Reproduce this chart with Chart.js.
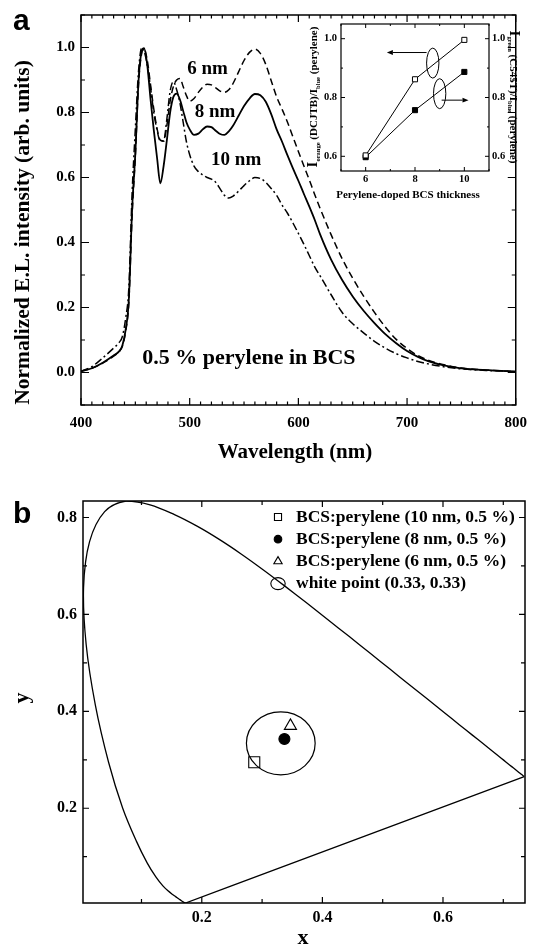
<!DOCTYPE html>
<html>
<head>
<meta charset="utf-8">
<script src="https://cdn.jsdelivr.net/npm/chart.js@4.4.1/dist/chart.umd.min.js"></script>
<style>
  html, body { margin: 0; padding: 0; background: #fff; }
  #page { position: relative; width: 536px; height: 946px; overflow: hidden; }
  canvas { position: absolute; }
</style>
</head>
<body>
<div id="page">
  <canvas id="spectra" width="536" height="470" style="left:0;top:0"></canvas>
  <canvas id="inset" width="240" height="210" style="left:290px;top:10px"></canvas>
  <canvas id="cie" width="536" height="476" style="left:0;top:470px"></canvas>
</div>
<script>
// ---- panel a: EL spectra ----
const wavelength = [400, 410, 420, 430, 435, 438, 441, 444, 447, 450, 453, 456, 458, 461, 464, 467, 470,
  473, 476, 479, 482, 485, 488, 491, 494, 497, 500, 504, 508, 512, 516, 520, 524, 528, 532, 536, 540,
  545, 550, 555, 560, 565, 570, 575, 580, 585, 590, 595, 600, 605, 610, 615, 620,
  630, 640, 650, 660, 670, 680, 690, 700, 710, 720, 735, 750, 775, 800];
const el6nm = [0.004, 0.013, 0.029, 0.05, 0.064, 0.08, 0.125, 0.215, 0.48, 0.665, 0.89, 0.985, 0.997, 0.96, 0.885, 0.81, 0.75,
  0.715, 0.712, 0.76, 0.835, 0.88, 0.9, 0.905, 0.88, 0.852, 0.835, 0.843, 0.862, 0.878, 0.887, 0.885, 0.876, 0.866, 0.862, 0.87, 0.89,
  0.925, 0.96, 0.985, 0.995, 0.982, 0.948, 0.898, 0.848, 0.81, 0.77, 0.725, 0.68, 0.636, 0.593, 0.548, 0.505,
  0.425, 0.352, 0.29, 0.235, 0.185, 0.14, 0.102, 0.074, 0.052, 0.037, 0.023, 0.014, 0.007, 0.003];
const el8nm = [0.004, 0.013, 0.03, 0.052, 0.065, 0.082, 0.13, 0.224, 0.5, 0.675, 0.9, 0.99, 0.998, 0.945, 0.84, 0.745, 0.66,
  0.582, 0.635, 0.715, 0.8, 0.848, 0.858, 0.84, 0.805, 0.77, 0.748, 0.731, 0.735, 0.748, 0.757, 0.755, 0.744, 0.734, 0.731, 0.742, 0.76,
  0.79, 0.82, 0.843, 0.857, 0.853, 0.833, 0.795, 0.748, 0.71, 0.668, 0.628, 0.59, 0.55, 0.511, 0.47, 0.425,
  0.348, 0.286, 0.234, 0.19, 0.152, 0.118, 0.09, 0.066, 0.048, 0.034, 0.021, 0.013, 0.007, 0.003];
const el10nm = [0.004, 0.018, 0.045, 0.075, 0.092, 0.11, 0.165, 0.26, 0.55, 0.75, 0.93, 1.0, 0.99, 0.945, 0.875, 0.8, 0.745,
  0.712, 0.712, 0.78, 0.865, 0.895, 0.87, 0.83, 0.77, 0.71, 0.67, 0.635, 0.618, 0.608, 0.6, 0.595, 0.585, 0.565, 0.545, 0.537, 0.543,
  0.558, 0.575, 0.59, 0.6, 0.597, 0.585, 0.566, 0.545, 0.515, 0.49, 0.46, 0.428, 0.395, 0.36, 0.325, 0.297,
  0.24, 0.186, 0.15, 0.122, 0.096, 0.075, 0.058, 0.045, 0.034, 0.026, 0.017, 0.011, 0.006, 0.003];
const tickWavelength = [400, 500, 600, 700, 800];
const tickIntensity = [0, 0.2, 0.4, 0.6, 0.8, 1.0];

// ---- inset: intensity ratios vs. doped-layer thickness ----
const thickness = [6, 8, 10];
const orangeRatio = [0.603, 0.862, 0.996];   // open squares, left axis
const greenRatio = [0.597, 0.757, 0.887];    // filled squares, right axis
const tickThickness = [6, 8, 10];
const tickRatio = [0.6, 0.8, 1.0];
const insetEllipses = [[8.72, 0.917], [9.0, 0.813]];
const insetArrows = [[[8.47, 0.953], [6.86, 0.953]], [[9.08, 0.791], [10.17, 0.791]]];

// ---- panel b: CIE 1931 spectral locus 380-700 nm, 5 nm steps ----
const locusX = [0.1741, 0.1740, 0.1738, 0.1736, 0.1733, 0.1730, 0.1726, 0.1721, 0.1714, 0.1703, 0.1689, 0.1669,
  0.1644, 0.1611, 0.1566, 0.1510, 0.1440, 0.1355, 0.1241, 0.1096, 0.0913, 0.0687, 0.0454, 0.0235, 0.0082,
  0.0039, 0.0139, 0.0389, 0.0743, 0.1142, 0.1547, 0.1929, 0.2296, 0.2658, 0.3016, 0.3373, 0.3731, 0.4087,
  0.4441, 0.4788, 0.5125, 0.5448, 0.5752, 0.6029, 0.6270, 0.6482, 0.6658, 0.6801, 0.6915, 0.7006, 0.7079,
  0.7140, 0.7190, 0.7230, 0.7260, 0.7283, 0.7300, 0.7311, 0.7320, 0.7327, 0.7334, 0.7340, 0.7344, 0.7346, 0.7347];
const locusY = [0.0050, 0.0050, 0.0049, 0.0049, 0.0048, 0.0048, 0.0048, 0.0048, 0.0051, 0.0058, 0.0069, 0.0086,
  0.0109, 0.0138, 0.0177, 0.0227, 0.0297, 0.0399, 0.0578, 0.0868, 0.1327, 0.2007, 0.2950, 0.4127, 0.5384,
  0.6548, 0.7502, 0.8120, 0.8338, 0.8262, 0.8059, 0.7816, 0.7543, 0.7243, 0.6923, 0.6589, 0.6245, 0.5896,
  0.5547, 0.5202, 0.4866, 0.4544, 0.4242, 0.3965, 0.3725, 0.3514, 0.3340, 0.3197, 0.3083, 0.2993, 0.2920,
  0.2859, 0.2809, 0.2770, 0.2740, 0.2717, 0.2700, 0.2689, 0.2680, 0.2673, 0.2666, 0.2660, 0.2656, 0.2654, 0.2653];
const sampleLabels = ['BCS:perylene (10 nm, 0.5 %)', 'BCS:perylene (8 nm, 0.5 %)', 'BCS:perylene (6 nm, 0.5 %)'];
const sampleX = [0.287, 0.337, 0.347];
const sampleY = [0.295, 0.343, 0.37];
const whitePoint = [0.331, 0.334];
const whiteRegion = [0.057, 0.065];   // half-axes of the drawn region
const tickCieX = [0.2, 0.4, 0.6];
const tickCieY = [0.2, 0.4, 0.6, 0.8];

const SERIF = '"Liberation Serif", "Times New Roman", serif';
const SANS = '"Liberation Sans", Arial, sans-serif';
Chart.defaults.font.family = SERIF;
Chart.defaults.font.weight = 'bold';
Chart.defaults.color = '#000';

const toXY = (xs, ys) => xs.map((x, i) => ({x, y: ys[i]}));
const fixedTicks = values => scale => { scale.ticks = values.map(value => ({value})); };

function drawRich(ctx, parts, x, y, rotation, align, family) {
  ctx.save();
  ctx.translate(x, y);
  ctx.rotate((rotation || 0) * Math.PI / 180);
  ctx.textBaseline = 'alphabetic';
  ctx.textAlign = 'left';
  let total = 0;
  parts.forEach(p => {
    ctx.font = `bold ${p.size}px ${family || SERIF}`;
    p.w = ctx.measureText(p.text).width;
    total += p.w;
  });
  let cx = align === 'center' ? -total / 2 : 0;
  parts.forEach(p => {
    ctx.font = `bold ${p.size}px ${family || SERIF}`;
    ctx.fillText(p.text, cx, p.dy || 0);
    cx += p.w;
  });
  ctx.restore();
}

// free text: axis titles, panel letters, curve labels
const notes = {
  id: 'notes',
  afterDraw(chart, args, opts) {
    const {ctx} = chart;
    ctx.save();
    ctx.fillStyle = '#000';
    (opts.items || []).forEach(it => {
      let x = it.x, y = it.y;
      if (it.data) {
        x = chart.scales.x.getPixelForValue(it.x);
        y = chart.scales.y.getPixelForValue(it.y);
      }
      drawRich(ctx, it.parts || [{text: it.text, size: it.size}], x, y, it.rotation, it.align, it.family);
    });
    ctx.restore();
  }
};

// box around the plot with inward ticks on all four sides
const frameTicks = {
  id: 'frameTicks',
  afterDatasetsDraw(chart, args, opts) {
    const {ctx, chartArea: a} = chart;
    ctx.save();
    ctx.strokeStyle = '#000';
    ctx.lineWidth = opts.lineWidth;
    ctx.strokeRect(a.left, a.top, a.right - a.left, a.bottom - a.top);
    ctx.lineWidth = opts.tickWidth;
    ['x', 'y'].forEach(id => {
      const t = opts[id], scale = chart.scales[id];
      const ratio = Math.round(t.major / t.minor);
      ctx.beginPath();
      for (let k = Math.ceil(scale.min / t.minor - 1e-9); k * t.minor <= scale.max + 1e-9; k++) {
        const len = k % ratio === 0 ? t.majorLen : t.minorLen;
        const p = scale.getPixelForValue(k * t.minor);
        if (id === 'x') {
          ctx.moveTo(p, a.bottom); ctx.lineTo(p, a.bottom - len);
          ctx.moveTo(p, a.top); ctx.lineTo(p, a.top + len);
        } else {
          ctx.moveTo(a.left, p); ctx.lineTo(a.left + len, p);
          ctx.moveTo(a.right, p); ctx.lineTo(a.right - len, p);
        }
      }
      ctx.stroke();
    });
    ctx.restore();
  }
};

// ellipses and arrows placed in data units
const shapes = {
  id: 'shapes',
  afterDatasetsDraw(chart, args, opts) {
    const {ctx} = chart;
    const sx = chart.scales.x, sy = chart.scales.y;
    ctx.save();
    ctx.strokeStyle = '#000';
    ctx.fillStyle = '#000';
    ctx.lineWidth = opts.lineWidth;
    (opts.ellipses || []).forEach(c => {
      const cx = sx.getPixelForValue(c[0]), cy = sy.getPixelForValue(c[1]);
      const rx = Math.abs(sx.getPixelForValue(c[0] + opts.radius[0]) - cx);
      const ry = Math.abs(sy.getPixelForValue(c[1] + opts.radius[1]) - cy);
      ctx.beginPath();
      ctx.ellipse(cx, cy, rx, ry, 0, 0, 2 * Math.PI);
      ctx.stroke();
    });
    (opts.arrows || []).forEach(([from, to]) => {
      const x1 = sx.getPixelForValue(from[0]), y1 = sy.getPixelForValue(from[1]);
      const x2 = sx.getPixelForValue(to[0]), y2 = sy.getPixelForValue(to[1]);
      const ang = Math.atan2(y2 - y1, x2 - x1), L = 6, W = 2.4;
      ctx.beginPath();
      ctx.moveTo(x1, y1);
      ctx.lineTo(x2 - L * Math.cos(ang), y2 - L * Math.sin(ang));
      ctx.stroke();
      ctx.beginPath();
      ctx.moveTo(x2, y2);
      ctx.lineTo(x2 - L * Math.cos(ang) + W * Math.sin(ang), y2 - L * Math.sin(ang) - W * Math.cos(ang));
      ctx.lineTo(x2 - L * Math.cos(ang) - W * Math.sin(ang), y2 - L * Math.sin(ang) + W * Math.cos(ang));
      ctx.closePath();
      ctx.fill();
    });
    ctx.restore();
  }
};

// legend of panel b, drawn from the sample datasets
const cieLegend = {
  id: 'cieLegend',
  afterDraw(chart, args, opts) {
    const {ctx} = chart;
    ctx.save();
    ctx.textBaseline = 'middle';
    ctx.textAlign = 'left';
    ctx.font = `bold ${opts.size}px ${SERIF}`;
    opts.rows.forEach((row, i) => {
      const y = opts.top + i * opts.spacing;
      ctx.strokeStyle = '#000';
      ctx.lineWidth = 1.1;
      let label = row.label;
      if (row.dataset != null) {
        const ds = chart.data.datasets[row.dataset];
        ctx.fillStyle = ds.pointBackgroundColor;
        Chart.helpers.drawPoint(ctx, {pointStyle: ds.pointStyle, radius: row.radius, borderWidth: 1.1, rotation: 0}, opts.symbolX, y);
        label = ds.label;
      } else {
        ctx.beginPath();
        ctx.ellipse(opts.symbolX, y, row.rx, row.ry, 0, 0, 2 * Math.PI);
        ctx.stroke();
      }
      ctx.fillStyle = '#000';
      ctx.fillText(label, opts.textX, y);
    });
    ctx.restore();
  }
};

const lineStyle = {borderColor: '#000', pointRadius: 0, fill: false, cubicInterpolationMode: 'monotone'};
const noGrid = {display: false, drawTicks: false};

// ---- panel a ----
new Chart(document.getElementById('spectra'), {
  type: 'line',
  data: {
    datasets: [
      {...lineStyle, label: '6 nm', data: toXY(wavelength, el6nm), borderWidth: 1.5, borderDash: [7, 4]},
      {...lineStyle, label: '8 nm', data: toXY(wavelength, el8nm), borderWidth: 1.8},
      {...lineStyle, label: '10 nm', data: toXY(wavelength, el10nm), borderWidth: 1.5, borderDash: [8, 3, 2, 3]}
    ]
  },
  plugins: [frameTicks, notes],
  options: {
    responsive: false,
    animation: false,
    layout: {padding: {top: 15, right: 13, left: 0, bottom: 0}},
    plugins: {
      legend: {display: false},
      tooltip: {enabled: false},
      frameTicks: {lineWidth: 1.5, tickWidth: 1.2,
        x: {major: 100, minor: 10, majorLen: 7, minorLen: 3.5},
        y: {major: 0.2, minor: 0.1, majorLen: 8, minorLen: 4}},
      notes: {items: [
        {text: 'a', size: 30, family: SANS, x: 13, y: 29.5},
        {text: 'Normalized E.L. intensity (arb. units)', size: 21.5, x: 29, y: 232.5, rotation: -90, align: 'center'},
        {text: 'Wavelength (nm)', size: 21, x: 295, y: 457.5, align: 'center'},
        {text: '6 nm', size: 19, data: true, x: 497.7, y: 0.92},
        {text: '8 nm', size: 19, data: true, x: 504.7, y: 0.787},
        {text: '10 nm', size: 19, data: true, x: 519.7, y: 0.638},
        {text: '0.5 % perylene in BCS', size: 22, data: true, x: 456.4, y: 0.026}
      ]}
    },
    scales: {
      x: {
        type: 'linear', min: 400, max: 800,
        grid: noGrid, border: {display: false},
        ticks: {padding: 9, autoSkip: false, maxRotation: 0, font: {size: 15, weight: 'bold'}},
        afterBuildTicks: fixedTicks(tickWavelength),
        afterFit: s => { s.height = 65; }
      },
      y: {
        min: -0.1, max: 1.1,
        grid: noGrid, border: {display: false},
        ticks: {padding: 6, autoSkip: false, font: {size: 15, weight: 'bold'}, callback: v => v.toFixed(1)},
        afterBuildTicks: fixedTicks(tickIntensity),
        afterFit: s => { s.width = 81; }
      }
    }
  }
});

// ---- inset of panel a ----
new Chart(document.getElementById('inset'), {
  type: 'line',
  data: {
    datasets: [
      {label: 'orange', data: toXY(thickness, orangeRatio), borderColor: '#000', borderWidth: 1,
        pointStyle: 'rect', pointRadius: 3.6, pointBorderWidth: 1, pointBackgroundColor: '#fff', pointBorderColor: '#000'},
      {label: 'green', data: toXY(thickness, greenRatio), yAxisID: 'y2', borderColor: '#000', borderWidth: 1,
        pointStyle: 'rect', pointRadius: 3.6, pointBorderWidth: 1, pointBackgroundColor: '#000', pointBorderColor: '#000'}
    ]
  },
  plugins: [frameTicks, shapes, notes],
  options: {
    responsive: false,
    animation: false,
    layout: {padding: {top: 14, right: 0, left: 0, bottom: 0}},
    plugins: {
      legend: {display: false},
      tooltip: {enabled: false},
      frameTicks: {lineWidth: 1.2, tickWidth: 1,
        x: {major: 2, minor: 1, majorLen: 4, minorLen: 2},
        y: {major: 0.2, minor: 0.1, majorLen: 4, minorLen: 2}},
      shapes: {lineWidth: 1, ellipses: insetEllipses, radius: [0.25, 0.051], arrows: insetArrows},
      notes: {items: [
        {text: 'Perylene-doped BCS thickness', size: 11, x: 118, y: 187.5, align: 'center'},
        {parts: [{text: 'I', size: 15}, {text: 'orange', size: 6.5, dy: 2.5}, {text: ' (DCJTB)/I', size: 11},
          {text: 'blue', size: 6.5, dy: 2.5}, {text: ' (perylene)', size: 11}],
          x: 27, y: 87, rotation: -90, align: 'center'},
        {parts: [{text: 'I', size: 15}, {text: 'green', size: 6.5, dy: 2.5}, {text: ' (C545T)/I', size: 11},
          {text: 'blue', size: 6.5, dy: 2.5}, {text: ' (perylene)', size: 11}],
          x: 220, y: 87, rotation: 90, align: 'center'}
      ]}
    },
    scales: {
      x: {
        type: 'linear', min: 5, max: 11,
        grid: noGrid, border: {display: false},
        ticks: {padding: 2, autoSkip: false, maxRotation: 0, font: {size: 10.5, weight: 'bold'}},
        afterBuildTicks: fixedTicks(tickThickness),
        afterFit: s => { s.height = 49; }
      },
      y: {
        min: 0.55, max: 1.05,
        grid: noGrid, border: {display: false},
        ticks: {padding: 4, autoSkip: false, font: {size: 10.5, weight: 'bold'}, callback: v => v.toFixed(1)},
        afterBuildTicks: fixedTicks(tickRatio),
        afterFit: s => { s.width = 51; }
      },
      y2: {
        position: 'right', min: 0.55, max: 1.05,
        grid: noGrid, border: {display: false},
        ticks: {padding: 3, autoSkip: false, font: {size: 10.5, weight: 'bold'}, callback: v => v.toFixed(1)},
        afterBuildTicks: fixedTicks(tickRatio),
        afterFit: s => { s.width = 41; }
      }
    }
  }
});

// ---- panel b ----
const markerStyle = {showLine: false, borderColor: '#000', pointBorderColor: '#000', pointBorderWidth: 1.1};
new Chart(document.getElementById('cie'), {
  type: 'line',
  data: {
    datasets: [
      {...lineStyle, cubicInterpolationMode: 'default', tension: 0.35, label: 'locus',
        data: toXY(locusX, locusY), borderWidth: 1.3},
      {...lineStyle, label: 'purple line', tension: 0, borderWidth: 1.3,
        data: [{x: locusX[locusX.length - 1], y: locusY[locusY.length - 1]}, {x: locusX[0], y: locusY[0]}]},
      {...markerStyle, label: sampleLabels[0], data: [{x: sampleX[0], y: sampleY[0]}],
        pointStyle: 'rect', pointRadius: 7.8, pointBackgroundColor: '#fff'},
      {...markerStyle, label: sampleLabels[1], data: [{x: sampleX[1], y: sampleY[1]}],
        pointStyle: 'circle', pointRadius: 5.5, pointBackgroundColor: '#000'},
      {...markerStyle, label: sampleLabels[2], data: [{x: sampleX[2], y: sampleY[2]}],
        pointStyle: 'triangle', pointRadius: 7, pointBackgroundColor: '#fff'}
    ]
  },
  plugins: [frameTicks, shapes, cieLegend, notes],
  options: {
    responsive: false,
    animation: false,
    layout: {padding: {top: 31, right: 11, left: 0, bottom: 0}},
    plugins: {
      legend: {display: false},
      tooltip: {enabled: false},
      frameTicks: {lineWidth: 1.5, tickWidth: 1.2,
        x: {major: 0.2, minor: 0.1, majorLen: 6, minorLen: 4},
        y: {major: 0.2, minor: 0.1, majorLen: 6, minorLen: 4}},
      shapes: {lineWidth: 1.2, ellipses: [whitePoint], radius: whiteRegion},
      cieLegend: {size: 17.5, top: 47, spacing: 22.2, symbolX: 278, textX: 296, rows: [
        {dataset: 2, radius: 5},
        {dataset: 3, radius: 3.8},
        {dataset: 4, radius: 4.8},
        {label: 'white point (0.33, 0.33)', rx: 7.2, ry: 6}
      ]},
      notes: {items: [
        {text: 'b', size: 30, family: SANS, x: 13, y: 53},
        {text: 'y', size: 22, x: 28, y: 228, rotation: -90, align: 'center'},
        {text: 'x', size: 22, x: 303, y: 474, align: 'center'}
      ]}
    },
    scales: {
      x: {
        type: 'linear', min: 0.003, max: 0.736,
        grid: noGrid, border: {display: false},
        ticks: {padding: 5, autoSkip: false, maxRotation: 0, font: {size: 16, weight: 'bold'}, callback: v => v.toFixed(1)},
        afterBuildTicks: fixedTicks(tickCieX),
        afterFit: s => { s.height = 43; }
      },
      y: {
        min: 0.0045, max: 0.834,
        grid: noGrid, border: {display: false},
        ticks: {padding: 6, autoSkip: false, font: {size: 16, weight: 'bold'}, callback: v => v.toFixed(1)},
        afterBuildTicks: fixedTicks(tickCieY),
        afterFit: s => { s.width = 83; }
      }
    }
  }
});
</script>
</body>
</html>
